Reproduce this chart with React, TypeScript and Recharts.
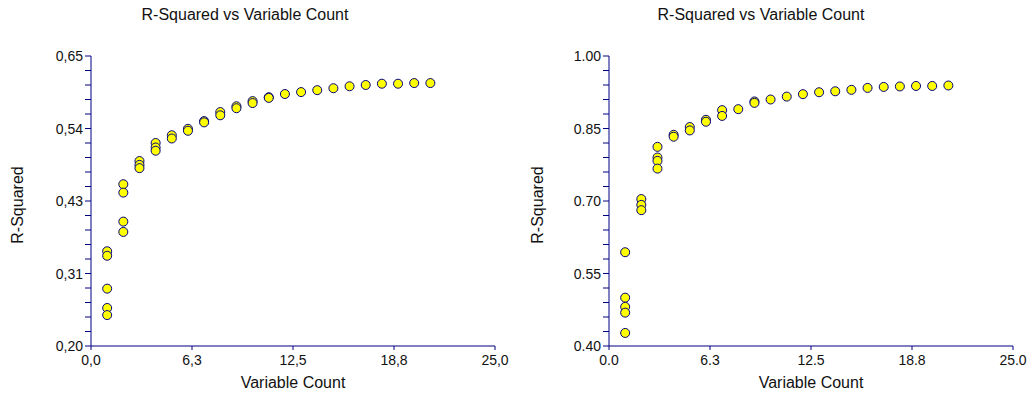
import { ScatterChart, Scatter, XAxis, YAxis } from 'recharts';

const FONT = "'Liberation Sans', Arial, sans-serif";
const NAVY = '#000080';

// left panel: comma decimals
const leftCounts = [1, 1, 1, 1, 1, 2, 2, 2, 2, 3, 3, 3, 4, 4, 4, 5, 5, 6, 6, 7, 7, 8, 8, 9, 9, 10, 10, 11, 11, 12, 13, 14, 15, 16, 17, 18, 19, 20, 21];
const leftR2 = [0.347, 0.340, 0.289, 0.259, 0.248, 0.451, 0.438, 0.393, 0.377, 0.487, 0.481, 0.476, 0.515, 0.508, 0.503, 0.527, 0.522, 0.537, 0.534, 0.549, 0.547, 0.563, 0.558, 0.572, 0.569, 0.580, 0.577, 0.586, 0.585, 0.591, 0.594, 0.597, 0.600, 0.603, 0.605, 0.607, 0.607, 0.608, 0.608];

// right panel: dot decimals
const rightCounts = [1, 1, 1, 1, 1, 2, 2, 2, 3, 3, 3, 3, 4, 4, 5, 5, 6, 6, 7, 7, 8, 9, 9, 10, 11, 12, 13, 14, 15, 16, 17, 18, 19, 20, 21];
const rightR2 = [0.594, 0.500, 0.481, 0.469, 0.427, 0.704, 0.692, 0.681, 0.812, 0.790, 0.783, 0.767, 0.837, 0.833, 0.853, 0.846, 0.868, 0.864, 0.888, 0.876, 0.890, 0.906, 0.903, 0.910, 0.916, 0.921, 0.925, 0.927, 0.930, 0.934, 0.936, 0.937, 0.938, 0.938, 0.939];

const xTicks = [0, 6.25, 12.5, 18.75, 25];
const leftXLabels = ['0,0', '6,3', '12,5', '18,8', '25,0'];
const rightXLabels = ['0.0', '6.3', '12.5', '18.8', '25.0'];

const leftYTicks = [0.2, 0.3125, 0.425, 0.5375, 0.65];
const leftYLabels = ['0,20', '0,31', '0,43', '0,54', '0,65'];
const rightYTicks = [0.4, 0.55, 0.7, 0.85, 1.0];
const rightYLabels = ['0.40', '0.55', '0.70', '0.85', '1.00'];

const title = 'R-Squared vs Variable Count';
const xTitle = 'Variable Count';
const yTitle = 'R-Squared';

function withMinors(major: number[], parts: number) {
  const out: number[] = [];
  for (let i = 0; i < major.length - 1; i++) {
    const step = (major[i + 1] - major[i]) / parts;
    for (let k = 0; k < parts; k++) out.push(major[i] + step * k);
  }
  out.push(major[major.length - 1]);
  return out;
}

function labelFor(v: number, ticks: number[], labels: string[]) {
  const i = ticks.findIndex(t => Math.abs(t - v) < 1e-6);
  return i >= 0 ? labels[i] : null;
}

const dot = (props: any) => (
  <circle cx={props.cx} cy={props.cy} r={4.5} fill="#ffff00" stroke={NAVY} strokeWidth={1} />
);

function Panel({ left, counts, r2, yTicks, yLabels, xLabels }: any) {
  const data = counts.map((c: number, i: number) => ({ x: c, y: r2[i] }));
  const allY = withMinors(yTicks, 5);

  const YTick = ({ x, y, payload }: any) => {
    const t = labelFor(payload.value, yTicks, yLabels);
    if (!t) return <g />;
    return (
      <text x={x} y={y} dy="0.36em" textAnchor="end" fontSize={14} fontFamily={FONT} fill="#111">{t}</text>
    );
  };
  const XTick = ({ x, y, payload }: any) => (
    <text x={x} y={y} dy="0.71em" textAnchor="middle" fontSize={14} fontFamily={FONT} fill="#111">
      {labelFor(payload.value, xTicks, xLabels)}
    </text>
  );

  return (
    <div style={{ position: 'absolute', left, top: 0, width: 516, height: 396 }}>
      <ScatterChart width={516} height={396} margin={{ top: 56, right: left === 0 ? 21 : 19, bottom: 0, left: left === 0 ? 31 : 33 }}>
        <XAxis
          type="number"
          dataKey="x"
          domain={[0, 25]}
          ticks={xTicks}
          interval={0}
          height={50}
          tickSize={4}
          tickMargin={5}
          axisLine={{ stroke: NAVY }}
          tickLine={{ stroke: NAVY }}
          tick={XTick}
        />
        <YAxis
          type="number"
          dataKey="y"
          domain={[yTicks[0], yTicks[yTicks.length - 1]]}
          ticks={allY}
          interval={0}
          width={60}
          tickSize={6}
          tickMargin={2}
          axisLine={{ stroke: NAVY }}
          tickLine={{ stroke: NAVY }}
          tick={YTick}
        />
        <Scatter data={data} shape={dot} isAnimationActive={false} />
      </ScatterChart>
      <div style={{ position: 'absolute', left: 0, width: 490, top: 6, textAlign: 'center', fontFamily: FONT, fontSize: 16, color: '#111', whiteSpace: 'nowrap' }}>
        {title}
      </div>
      <div style={{ position: 'absolute', left: left === 0 ? 91 : 93, width: 404, top: 374, textAlign: 'center', fontFamily: FONT, fontSize: 16, color: '#111', whiteSpace: 'nowrap' }}>
        {xTitle}
      </div>
      <div style={{ position: 'absolute', left: (left === 0 ? 18 : 22) - 50, width: 100, top: 196, textAlign: 'center', fontFamily: FONT, fontSize: 16, color: '#111', transform: 'rotate(-90deg)', whiteSpace: 'nowrap' }}>
        {yTitle}
      </div>
    </div>
  );
}

export default function App() {
  return (
    <div style={{ position: 'absolute', left: 0, top: 0, width: 1032, height: 396, background: '#fff', overflow: 'hidden' }}>
      <Panel left={0} counts={leftCounts} r2={leftR2} yTicks={leftYTicks} yLabels={leftYLabels} xLabels={leftXLabels} />
      <Panel left={516} counts={rightCounts} r2={rightR2} yTicks={rightYTicks} yLabels={rightYLabels} xLabels={rightXLabels} />
    </div>
  );
}
